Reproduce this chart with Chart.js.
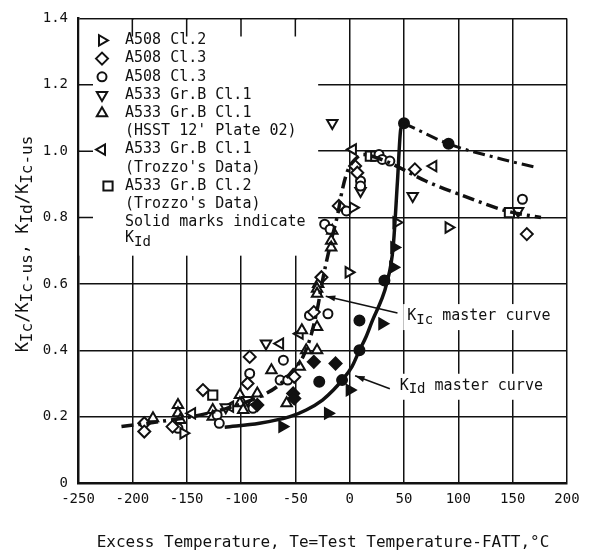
<!DOCTYPE html>
<html>
<head>
<meta charset="utf-8">
<script src="https://cdn.jsdelivr.net/npm/chart.js@4.4.0/dist/chart.umd.min.js"></script>
<style>
  html, body { margin: 0; background: #fff; }
  canvas { display: block; }
</style>
</head>
<body>
<canvas id="chart" width="593" height="559"></canvas>
<script>
(function () {
  'use strict';

  const FONT = 'DejaVu Sans Mono';
  const INK = '#111';

  // ---- Axis ticks ----
  const xTickValues = [-250, -200, -150, -100, -50, 0, 50, 100, 150, 200];
  const yTickLabels = ['0', '0.2', '0.4', '0.6', '0.8', '1.0', '1.2', '1.4'];

  // ---- Data (excess temperature °C, normalised toughness) ----
  const a508cl2Open = [[-153, 0.15], [-1, 0.635], [3, 0.83], [43, 0.785], [91, 0.77]];
  const a508cl2Solid = [[-62, 0.17], [-20, 0.21], [0, 0.28], [30, 0.48], [40, 0.65], [41, 0.71]];
  const a508cl3DiamondOpen = [[-189, 0.18], [-189, 0.155], [-163, 0.17], [-135, 0.28], [-92, 0.38],
    [-94, 0.30], [-51, 0.32], [-33, 0.515], [-26, 0.62], [-10, 0.835], [5, 0.955], [7, 0.935],
    [60, 0.945], [163, 0.75]];
  const a508cl3DiamondSolid = [[-85, 0.235], [-52, 0.27], [-51, 0.255], [-33, 0.365], [-13, 0.36]];
  const a508cl3CircleOpen = [[-158, 0.165], [-122, 0.205], [-120, 0.18], [-92, 0.33], [-89, 0.225],
    [-61, 0.37], [-64, 0.31], [-57, 0.31], [-37, 0.505], [-20, 0.51], [-23, 0.78], [-18, 0.765],
    [-3, 0.82], [10, 0.91], [10, 0.895], [27, 0.99], [30, 0.975], [37, 0.97], [159, 0.855]];
  const a508cl3CircleSolid = [[-28, 0.305], [-7, 0.31], [9, 0.40], [9, 0.49], [32, 0.61], [50, 1.084], [91, 1.022]];
  const a533cl1Open = [[-114, 0.228], [-94, 0.25], [-77, 0.42], [-16, 1.085], [10, 0.88], [58, 0.865], [155, 0.82]];
  const hsstPlate02 = [[-181, 0.195], [-158, 0.235], [-158, 0.21], [-156, 0.19], [-126, 0.22], [-126, 0.2],
    [-101, 0.265], [-101, 0.24], [-98, 0.22], [-85, 0.27], [-72, 0.34], [-58, 0.24], [-46, 0.35],
    [-44, 0.46], [-40, 0.40], [-30, 0.40], [-30, 0.47], [-29, 0.60], [-30, 0.585], [-30, 0.57],
    [-17, 0.73], [-17, 0.71], [-16, 0.76]];
  const trozzoCl1 = [[-145, 0.21], [-110, 0.23], [-64, 0.42], [-46, 0.45], [3, 1.005], [77, 0.955]];
  const trozzoCl2 = [[-126, 0.265], [19, 0.985], [24, 0.985], [147, 0.815]];

  // ---- Master curves ----
  const kicMaster = [[-210, 0.17], [-175, 0.185], [-145, 0.2], [-113, 0.225], [-83, 0.26], [-65, 0.295],
    [-52, 0.34], [-43, 0.38], [-36, 0.44], [-30, 0.52], [-25, 0.61], [-17, 0.73], [-11, 0.81],
    [-7, 0.88], [-2, 0.94], [5, 0.975], [12, 0.99], [25, 0.98], [40, 0.96], [70, 0.91],
    [101, 0.87], [144, 0.82], [176, 0.80]];
  const kidMaster = [[-115, 0.168], [-83, 0.18], [-55, 0.20], [-40, 0.22], [-25, 0.25], [-15, 0.28],
    [-7, 0.31], [2, 0.35], [9, 0.40], [15, 0.44], [21, 0.49], [29, 0.55], [34, 0.60], [40, 0.71],
    [44, 0.91], [47, 1.066], [50, 1.084]];
  const kidMasterUpper = [[50, 1.084], [91, 1.022], [135, 0.98], [173, 0.95]];

  const pts = arr => arr.map(p => ({ x: p[0], y: p[1] }));

  function markers(label, data, style, rotation, radius, solid) {
    return {
      label,
      data: pts(data),
      showLine: false,
      pointStyle: style,
      rotation,
      pointRadius: radius,
      pointBorderWidth: 2,
      pointBorderColor: INK,
      pointBackgroundColor: solid ? INK : '#fff'
    };
  }

  function curve(label, data, width, dash) {
    return {
      label,
      data: pts(data),
      showLine: true,
      borderColor: INK,
      borderWidth: width,
      borderDash: dash,
      pointRadius: 0,
      tension: 0.4,
      cubicInterpolationMode: 'monotone'
    };
  }

  // ---- Legend rows ----
  const legendRows = [
    { style: 'triangle', rot: 90, r: 6, text: 'A508 Cl.2' },
    { style: 'rectRot', rot: 0, r: 6, text: 'A508 Cl.3' },
    { style: 'circle', rot: 0, r: 4.5, text: 'A508 Cl.3' },
    { style: 'triangle', rot: 180, r: 6, text: 'A533 Gr.B Cl.1' },
    { style: 'triangle', rot: 0, r: 6, text: 'A533 Gr.B Cl.1' },
    { text: "(HSST 12' Plate 02)" },
    { style: 'triangle', rot: 270, r: 6, text: 'A533 Gr.B Cl.1' },
    { text: "(Trozzo's Data)" },
    { style: 'rect', rot: 0, r: 6.5, text: 'A533 Gr.B Cl.2', dx: 6 },
    { text: "(Trozzo's Data)" },
    { text: 'Solid marks indicate' },
    { parts: [['K', 0], ['Id', 1]] }
  ];

  function drawRich(ctx, parts, x, y, big, small) {
    let cx = x;
    parts.forEach(([t, sub]) => {
      ctx.font = (sub ? small : big) + 'px "' + FONT + '"';
      ctx.fillText(t, cx, y + (sub ? 4 : 0));
      cx += ctx.measureText(t).width;
    });
    return cx - x;
  }

  function richWidth(ctx, parts, big, small) {
    let w = 0;
    parts.forEach(([t, sub]) => {
      ctx.font = (sub ? small : big) + 'px "' + FONT + '"';
      w += ctx.measureText(t).width;
    });
    return w;
  }

  function arrow(ctx, x1, y1, x2, y2) {
    ctx.beginPath();
    ctx.moveTo(x1, y1);
    ctx.lineTo(x2, y2);
    ctx.lineWidth = 1.5;
    ctx.stroke();
    const a = Math.atan2(y2 - y1, x2 - x1);
    ctx.beginPath();
    ctx.moveTo(x2, y2);
    ctx.lineTo(x2 - 10 * Math.cos(a - 0.3), y2 - 10 * Math.sin(a - 0.3));
    ctx.lineTo(x2 - 10 * Math.cos(a + 0.3), y2 - 10 * Math.sin(a + 0.3));
    ctx.closePath();
    ctx.fill();
  }

  const paperPlugin = {
    id: 'paper',
    beforeDatasetsDraw(chart) {
      const { ctx, chartArea: ca, scales } = chart;
      const xs = scales.x, ys = scales.y;
      ctx.save();
      // legend area has no grid
      ctx.fillStyle = '#fff';
      ctx.fillRect(ca.left + 1.5, ca.top + 1.5, xs.getPixelForValue(-29) - ca.left - 1.5, ys.getPixelForValue(0.685) - ca.top - 1.5);
      // short inward ticks left and top
      ctx.strokeStyle = INK;
      ctx.lineWidth = 1.5;
      ctx.beginPath();
      [0.8, 1.0, 1.2].forEach(v => {
        const y = ys.getPixelForValue(v);
        ctx.moveTo(ca.left, y);
        ctx.lineTo(ca.left + 15, y);
      });
      [-200, -150, -100, -50].forEach(v => {
        const x = xs.getPixelForValue(v);
        ctx.moveTo(x, ca.top);
        ctx.lineTo(x, ca.top + 18);
      });
      ctx.stroke();

      // white patches behind the curve labels
      ctx.fillStyle = '#fff';
      const k1x = xs.getPixelForValue(53), k1y = ys.getPixelForValue(0.503);
      ctx.fillRect(k1x - 4, k1y - 12, 156, 26);
      const k2x = xs.getPixelForValue(46), k2y = ys.getPixelForValue(0.293);
      ctx.fillRect(k2x - 4, k2y - 12, 156, 26);
      ctx.restore();
    },
    afterDatasetsDraw(chart) {
      const { ctx, chartArea: ca, scales } = chart;
      const xs = scales.x, ys = scales.y;
      ctx.save();
      ctx.fillStyle = INK;
      ctx.strokeStyle = INK;
      ctx.textBaseline = 'middle';
      ctx.textAlign = 'left';

      // legend
      const mx = ca.left + 24, tx = ca.left + 47;
      legendRows.forEach((row, i) => {
        const y = ca.top + 22 + i * 18.2;
        if (row.style) {
          ctx.fillStyle = '#fff';
          ctx.lineWidth = 2;
          Chart.helpers.drawPoint(ctx, { pointStyle: row.style, rotation: row.rot, radius: row.r, borderWidth: 2 }, mx + (row.dx || 0), y);
          ctx.fillStyle = INK;
        }
        if (row.parts) drawRich(ctx, row.parts, tx, y - 2, 15, 14);
        else {
          ctx.font = '15px "' + FONT + '"';
          ctx.fillText(row.text, tx, y);
        }
      });

      // curve labels
      const k1x = xs.getPixelForValue(53), k1y = ys.getPixelForValue(0.503);
      drawRich(ctx, [['K', 0], ['Ic', 1], [' master curve', 0]], k1x, k1y, 15, 14);
      arrow(ctx, xs.getPixelForValue(44), ys.getPixelForValue(0.512), xs.getPixelForValue(-22), ys.getPixelForValue(0.563));
      const k2x = xs.getPixelForValue(46), k2y = ys.getPixelForValue(0.293);
      drawRich(ctx, [['K', 0], ['Id', 1], [' master curve', 0]], k2x, k2y, 15, 14);
      arrow(ctx, xs.getPixelForValue(37), ys.getPixelForValue(0.284), xs.getPixelForValue(5), ys.getPixelForValue(0.323));

      // x axis title
      ctx.font = '16px "' + FONT + '"';
      ctx.textAlign = 'center';
      ctx.fillText('Excess Temperature, Te=Test Temperature-FATT,°C', 323, 543);

      // y axis title (rotated, with subscripts)
      const yParts = [['K', 0], ['Ic', 1], ['/', 0], ['K', 0], ['Ic-us', 1], [', ', 0],
        ['K', 0], ['Id', 1], ['/', 0], ['K', 0], ['Ic-us', 1]];
      ctx.textAlign = 'left';
      ctx.translate(25, 244);
      ctx.rotate(-Math.PI / 2);
      const w = richWidth(ctx, yParts, 17, 16);
      drawRich(ctx, yParts, -w / 2, -1, 17, 16);
      ctx.restore();
    }
  };

  new Chart(document.getElementById('chart'), {
    type: 'scatter',
    data: {
      datasets: [
        curve('KIc master curve', kicMaster, 3.5, [12, 5, 3, 5]),
        curve('KId master curve', kidMaster, 3.5, []),
        curve('KId master curve (upper shelf)', kidMasterUpper, 3, [12, 5, 3, 5]),
        markers('A508 Cl.2', a508cl2Open, 'triangle', 90, 6, false),
        markers('A508 Cl.2 KId', a508cl2Solid, 'triangle', 90, 6, true),
        markers('A508 Cl.3', a508cl3DiamondOpen, 'rectRot', 0, 6, false),
        markers('A508 Cl.3 KId', a508cl3DiamondSolid, 'rectRot', 0, 6, true),
        markers('A508 Cl.3 (circle)', a508cl3CircleOpen, 'circle', 0, 4.5, false),
        markers('A508 Cl.3 (circle) KId', a508cl3CircleSolid, 'circle', 0, 5, true),
        markers('A533 Gr.B Cl.1', a533cl1Open, 'triangle', 180, 6, false),
        markers("A533 Gr.B Cl.1 (HSST 12' Plate 02)", hsstPlate02, 'triangle', 0, 6, false),
        markers("A533 Gr.B Cl.1 (Trozzo's Data)", trozzoCl1, 'triangle', 270, 6, false),
        markers("A533 Gr.B Cl.2 (Trozzo's Data)", trozzoCl2, 'rect', 0, 6.5, false)
      ]
    },
    options: {
      responsive: false,
      animation: false,
      events: [],
      layout: { padding: { top: 15, right: 26, left: 0, bottom: 0 } },
      plugins: { legend: { display: false }, tooltip: { enabled: false } },
      scales: {
        x: {
          type: 'linear',
          min: -250,
          max: 200,
          afterBuildTicks: s => { s.ticks = xTickValues.map(v => ({ value: v })); },
          afterFit: s => { s.height = 76; },
          ticks: { color: INK, padding: 8, font: { family: FONT, size: 14 } },
          grid: { color: INK, lineWidth: 1.5, drawTicks: false },
          border: { color: INK, width: 2.5 }
        },
        y: {
          min: 0,
          max: 1.4,
          ticks: {
            stepSize: 0.2,
            color: INK,
            padding: 10,
            font: { family: FONT, size: 14 },
            callback: (v, i) => yTickLabels[i]
          },
          afterFit: s => { s.width = 78; },
          grid: { color: INK, lineWidth: 1.5, drawTicks: false },
          border: { color: INK, width: 2.5 }
        }
      }
    },
    plugins: [paperPlugin]
  });
})();
</script>
</body>
</html>
